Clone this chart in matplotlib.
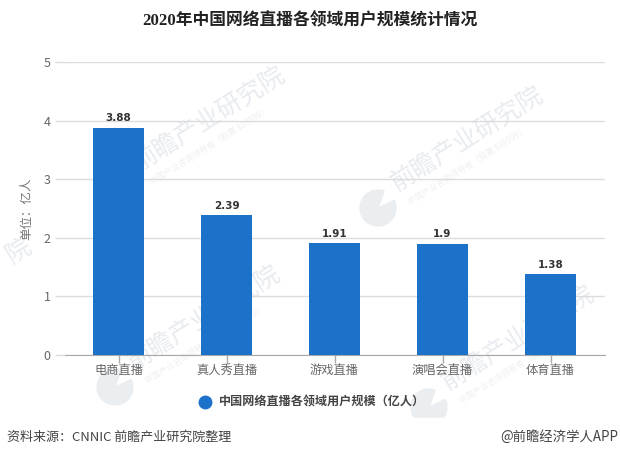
import matplotlib
matplotlib.use('Agg')
import matplotlib.pyplot as plt
from matplotlib.lines import Line2D
from matplotlib.patches import Rectangle, Wedge
from matplotlib.transforms import IdentityTransform

plt.rcParams['font.family'] = ['Noto Sans CJK SC', 'DejaVu Sans']

categories = ['电商直播', '真人秀直播', '游戏直播', '演唱会直播', '体育直播']
values = [3.88, 2.39, 1.91, 1.9, 1.38]
value_labels = ['3.88', '2.39', '1.91', '1.9', '1.38']
y_ticks = [0, 1, 2, 3, 4, 5]

W, H = 620, 458
BLUE = '#1b72c8'

fig = plt.figure(figsize=(W / 100, H / 100), dpi=100, facecolor='white')


def fx(px):
    return px / W


def fy(py):
    return 1 - py / H


# watermarks sit behind the axes: text start x, y
marks = [(137, 173), (395, 193), (132, 372), (446, 392)]
for tx, ty in marks:
    fig.text(fx(tx + 5), fy(ty + 3), '前瞻产业研究院', fontsize=18, color='#e8ebef', rotation=32,
             rotation_mode='anchor', ha='left', va='bottom', zorder=0)
    fig.text(fx(tx + 16), fy(ty + 14), '中国产业咨询领导者（股票 839599）', fontsize=6, color='#eef0f3',
             rotation=32, rotation_mode='anchor', ha='left', va='bottom', zorder=0)
    logo = Wedge((tx - 17, H - (ty + 15)), 18, 70, 385, color='#ebeef1',
                 transform=IdentityTransform(), zorder=0)
    fig.add_artist(logo)
fig.text(fx(15), fy(268), '院', fontsize=18, color='#e8ebef', rotation=32,
         rotation_mode='anchor', ha='left', va='bottom', zorder=0)

# footer band hides the watermark below the legend
fig.add_artist(Rectangle((0, 0), 1, fy(418), color='white', transform=fig.transFigure, zorder=0.5))

ax = fig.add_axes([fx(64.5), fy(355), fx(604.5) - fx(64.5), fy(62) - fy(355)], zorder=2)
ax.patch.set_alpha(0)

x = range(len(categories))
ax.bar(x, values, width=0.472, color=BLUE, zorder=3)
ax.set_xlim(-0.5, 4.5)
ax.set_ylim(0, 5)

# gridlines run past the axes to the tick labels
ax.set_yticks(y_ticks)
ax.tick_params(axis='y', length=7, width=1, color='#dcdcdc', labelsize=9, labelcolor='#666666', pad=3)
ax.grid(True, axis='y', color='#dcdcdc', linewidth=1, zorder=1)
ax.set_axisbelow(True)

ax.set_xticks(list(x))
ax.set_xticklabels(categories)
ax.tick_params(axis='x', length=5.5, width=1, color='#aaaaaa', labelsize=8.8, labelcolor='#666666', pad=1)

for side in ['top', 'right', 'left']:
    ax.spines[side].set_visible(False)
ax.spines['bottom'].set_color('#a8a8a8')

for i, v in enumerate(values):
    ax.annotate(value_labels[i], (i, v), xytext=(0, 3), textcoords='offset points', ha='center', va='bottom',
                fontsize=7.5, fontweight='bold', color='#333333', family=['DejaVu Sans'], zorder=4)

fig.text(fx(27), fy(209), '单位：亿人', fontsize=9, color='#777777', rotation=90, ha='center', va='center', zorder=3)

fig.text(fx(310), fy(21), '2020年中国网络直播各领域用户规模统计情况', fontsize=12.1, fontweight='bold', color='#222222',
         ha='center', va='center', family=['Liberation Serif', 'Noto Sans CJK SC'])

# legend
fig.add_artist(Line2D([fx(205)], [fy(402)], marker='o', markersize=9, color=BLUE, transform=fig.transFigure, zorder=3))
fig.text(fx(219), fy(402), '中国网络直播各领域用户规模（亿人）', fontsize=8.7, fontweight='bold', color='#444444',
         ha='left', va='center', zorder=3)

fig.text(fx(7), fy(437), '资料来源：CNNIC 前瞻产业研究院整理', fontsize=9.4, color='#444444', ha='left', va='center', zorder=3)
fig.text(fx(618), fy(437), '@前瞻经济学人APP', fontsize=9.6, color='#444444', ha='right', va='center', zorder=3)

plt.savefig('out.png', dpi=100)
